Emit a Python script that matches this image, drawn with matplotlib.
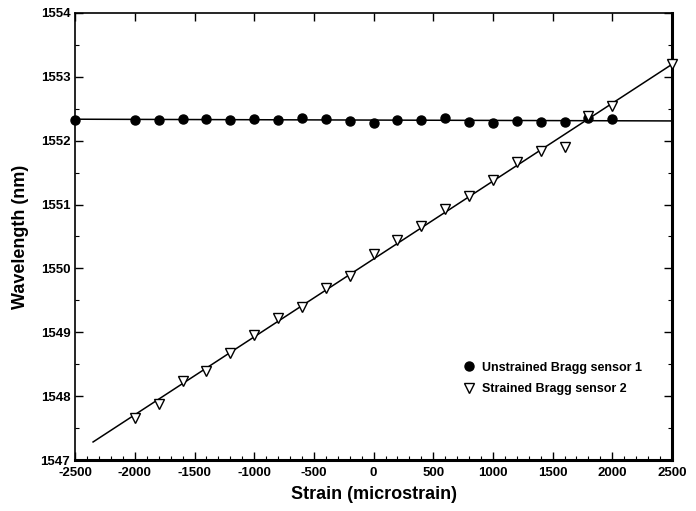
import numpy as np
import matplotlib
matplotlib.use('Agg')
import matplotlib.pyplot as plt
from matplotlib.ticker import MultipleLocator

plt.rcParams['font.family'] = ['Liberation Sans', 'DejaVu Sans']
plt.rcParams['axes.unicode_minus'] = False

# Sensor 1: unstrained
strain1 = [-2500, -2000, -1800, -1600, -1400, -1200, -1000, -800, -600, -400, -200,
           0, 200, 400, 600, 800, 1000, 1200, 1400, 1600, 1800, 2000]
wl1 = [1552.33, 1552.33, 1552.33, 1552.34, 1552.34, 1552.33, 1552.34, 1552.33, 1552.35,
       1552.34, 1552.31, 1552.28, 1552.33, 1552.32, 1552.35, 1552.29, 1552.28, 1552.31,
       1552.30, 1552.30, 1552.35, 1552.34]

# Sensor 2: strained
strain2 = [-2000, -1800, -1600, -1400, -1200, -1000, -800, -600, -400, -200,
           0, 200, 400, 600, 800, 1000, 1200, 1400, 1600, 1800, 2000, 2500]
wl2 = [1547.65, 1547.88, 1548.23, 1548.40, 1548.68, 1548.95, 1549.22, 1549.40, 1549.70,
       1549.88, 1550.22, 1550.45, 1550.66, 1550.93, 1551.14, 1551.38, 1551.66, 1551.84,
       1551.90, 1552.38, 1552.55, 1553.20]

fig = plt.figure(figsize=(6.96, 5.11), dpi=100)
ax = fig.add_axes([0.108, 0.0998, 0.8575, 0.8748])

# linear fits
p1 = np.polyfit(strain1, wl1, 1)
xs1 = np.array([-2500, 2500])
ax.plot(xs1, np.polyval(p1, xs1), color='black', lw=1.1, zorder=2)
p2 = np.polyfit(strain2, wl2, 1)
xs2 = np.array([-2350, 2500])
ax.plot(xs2, np.polyval(p2, xs2), color='black', lw=1.1, zorder=2)

ax.plot(strain1, wl1, 'o', color='black', ms=6.5, ls='none', zorder=3,
        label='Unstrained Bragg sensor 1', clip_on=False)
ax.plot(strain2, wl2, 'v', mfc='white', mec='black', mew=1.0, ms=7, ls='none',
        zorder=3, label='Strained Bragg sensor 2', clip_on=False)

ax.set_xlim(-2500, 2500)
ax.set_ylim(1547, 1554)
ax.xaxis.set_major_locator(MultipleLocator(500))
ax.xaxis.set_minor_locator(MultipleLocator(100))
ax.yaxis.set_major_locator(MultipleLocator(1))
ax.yaxis.set_minor_locator(MultipleLocator(0.5))
ax.tick_params(which='both', direction='in', top=True, right=True, labelsize=9.5)
ax.tick_params(which='major', length=6, width=1)
ax.tick_params(which='minor', length=3, width=0.8)
ax.tick_params(axis='x', which='minor', top=False)
ax.tick_params(axis='x', which='major', pad=5)
for lab in ax.get_xticklabels() + ax.get_yticklabels():
    lab.set_fontweight('bold')
ax.yaxis.set_major_formatter(plt.FormatStrFormatter('%d'))

ax.spines['right'].set_linewidth(2.2)
ax.spines['bottom'].set_linewidth(2.2)
ax.spines['left'].set_linewidth(1.2)
ax.spines['top'].set_linewidth(1.2)

ax.set_xlabel('Strain (microstrain)', fontsize=13, fontweight='bold', labelpad=5)
ax.set_ylabel('Wavelength (nm)', fontsize=13, fontweight='bold', labelpad=8)

leg = ax.legend(loc='upper left', bbox_to_anchor=(0.63, 0.245), frameon=False,
                fontsize=9, handletextpad=0.6, labelspacing=0.75, handlelength=1.0)
for t in leg.get_texts():
    t.set_fontweight('bold')

fig.savefig('out.png', dpi=100)
